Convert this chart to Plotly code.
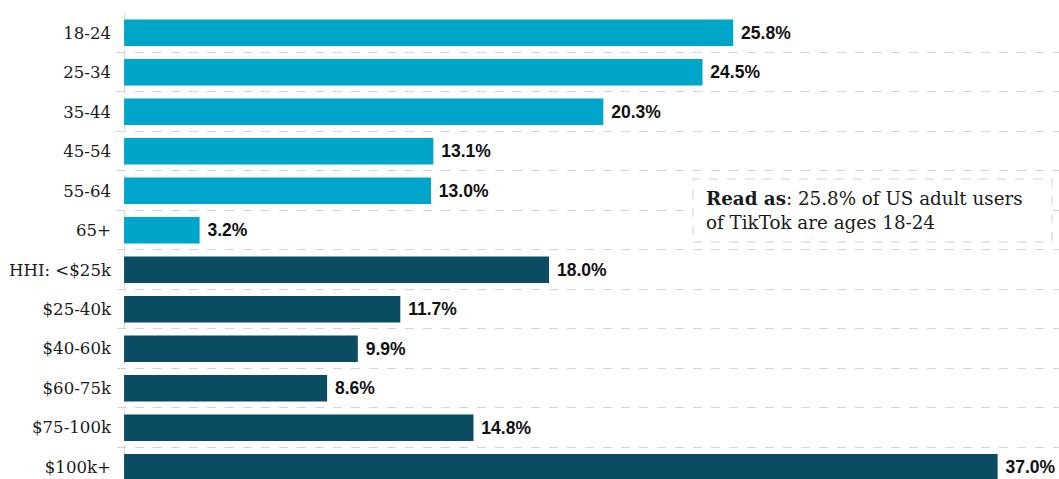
import plotly.graph_objects as go

categories = ["18-24", "25-34", "35-44", "45-54", "55-64", "65+",
              "HHI: <$25k", "$25-40k", "$40-60k", "$60-75k", "$75-100k", "$100k+"]
values = [25.8, 24.5, 20.3, 13.1, 13.0, 3.2, 18.0, 11.7, 9.9, 8.6, 14.8, 37.0]
groups = ["age"] * 6 + ["income"] * 6
group_colors = {"age": "#00A6CA", "income": "#0A4D63"}

fig = go.Figure()
fig.add_trace(go.Bar(
    y=categories, x=values, orientation="h",
    marker=dict(color=[group_colors[g] for g in groups], line=dict(width=0)),
    width=0.67,
    text=[f" {v:.1f}%" for v in values],
    textposition="outside",
    constraintext="none",
    textfont=dict(family="Liberation Sans, Arial", size=17.5, color="#111111", weight="bold"),
    cliponaxis=False,
    hoverinfo="skip",
))

fig.update_layout(
    width=1059, height=479,
    margin=dict(l=117, r=0, t=13, b=0),
    paper_bgcolor="white", plot_bgcolor="white",
    showlegend=False,
    bargap=0.33,
)
fig.update_xaxes(
    range=[-0.3, 39.6], showticklabels=False, zeroline=False,
    showgrid=True, tickvals=[0], gridcolor="#d9d9d9", griddash="dash", gridwidth=1,
    showline=False,
)
fig.update_yaxes(
    type="category", categoryorder="array", categoryarray=categories,
    range=[11.3, -0.5],
    tickson="boundaries", showgrid=True, gridcolor="#d4d4d4", griddash="dash", gridwidth=1,
    ticks="", ticklabelstandoff=5,
    tickfont=dict(family="DejaVu Serif", size=16.6, color="#1a1a1a"),
    zeroline=False, showline=False,
)

fig.add_shape(type="rect", xref="paper", yref="paper",
              x0=(693 - 117) / 942, x1=(1052 - 117) / 942,
              y0=1 - (242 - 13) / 466, y1=1 - (179 - 13) / 466,
              fillcolor="white", line=dict(color="#cfcfcf", width=1, dash="dash"),
              layer="above")
fig.add_annotation(
    xref="paper", yref="paper",
    x=(704 - 117) / 942, y=1 - (211 - 13) / 466,
    xanchor="left", yanchor="middle", align="left", showarrow=False,
    text="<b>Read as</b>: 25.8% of US adult users<br>of TikTok are ages 18-24",
    font=dict(family="DejaVu Serif", size=18.3, color="#1a1a1a"),
)

fig.write_html("out.html")
